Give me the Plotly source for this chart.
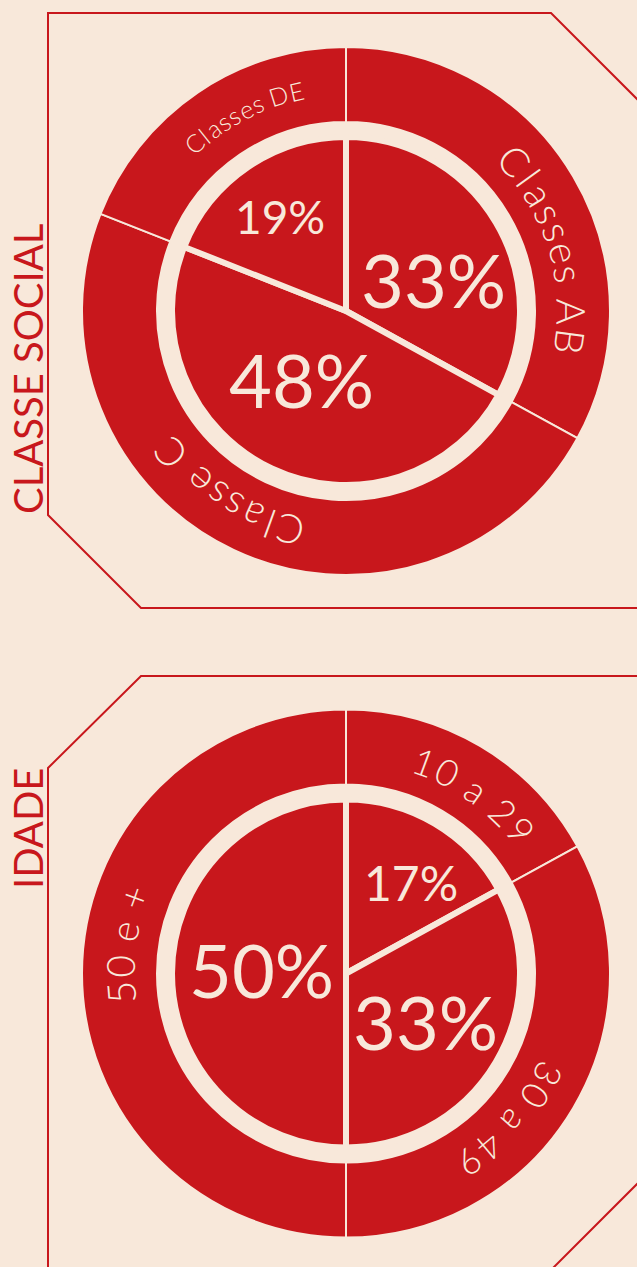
import math
import plotly.graph_objects as go

# ---------------- data ----------------
social_labels = ["Classes AB", "Classe C", "Classes DE"]
social_values = [33, 48, 19]

age_labels = ["10 a 29", "30 a 49", "50 e +"]
age_values = [17, 33, 50]

titles = ["CLASSE SOCIAL", "IDADE"]

# ---------------- style ----------------
W, H = 637, 1267
BG = "#F8E8DA"
RED = "#C8171C"
FONT = "Lato"

# approximate advance widths (em)
CHAR_W = {"C": 0.68, "l": 0.24, "a": 0.49, "s": 0.40, "e": 0.51, " ": 0.20,
          "D": 0.75, "E": 0.57, "A": 0.68, "B": 0.64, "+": 0.58}
for d in "0123456789":
    CHAR_W[d] = 0.58

charts = [
    dict(labels=social_labels, values=social_values, title=titles[0],
         cx=346, cy=311, title_xy=(28, 369),
         pct_style=[(433, 279, 74), (301, 379, 74), (279.5, 216, 46)],
         arc_style=[(73.0, 40, 0.10), (212.6, 40, 0.10), (332.4, 25, 0.07)],
         box="M 48,13 L 551,13 L 660,122 L 660,608 L 141,608 L 48,515 Z"),
    dict(labels=age_labels, values=age_values, title=titles[1],
         cx=346, cy=973.5, title_xy=(28, 829),
         pct_style=[(410.5, 882, 48), (425, 1021, 74), (261, 969, 74)],
         arc_style=[(35.4, 37, 0.10), (131.5, 37, 0.10), (277.5, 39, 0.08)],
         box="M 141,676 L 660,676 L 660,1161 L 550,1271 L 48,1271 L 48,768 Z"),
]

R_OUT = 264      # outer ring radius (px)
R_HOLE = 189     # ring inner radius (px)
R_PIE = 174      # inner pie radius (px)
R_TEXT = 226     # curved label radius (px)

fig = go.Figure()
annotations = []
shapes = []


def domain(cx, cy, r):
    return dict(x=[(cx - r) / W, (cx + r) / W],
                y=[(H - cy - r) / H, (H - cy + r) / H])


def arc_text(text, cx, cy, r, theta_c, size, spacing, weight=300):
    widths = [(CHAR_W.get(ch, 0.55) + spacing) * size for ch in text]
    total = sum(widths)
    s = -total / 2
    for ch, w in zip(text, widths):
        mid = s + w / 2
        th = theta_c + math.degrees(mid / r)
        t = math.radians(th)
        x = cx + r * math.sin(t)
        y = cy - r * math.cos(t)
        ang = ((th + 180) % 360) - 180
        if ch != " ":
            annotations.append(dict(
                x=x, y=y, xref="x", yref="y", text=ch, showarrow=False,
                textangle=ang, xanchor="center", yanchor="middle",
                font=dict(family=FONT, size=size, color=BG, weight=weight)))
        s += w


for ch in charts:
    cx, cy = ch["cx"], ch["cy"]
    # outer ring
    fig.add_trace(go.Pie(
        values=ch["values"], labels=ch["labels"], sort=False,
        direction="clockwise", rotation=0, hole=R_HOLE / R_OUT,
        marker=dict(colors=[RED] * len(ch["values"]), line=dict(color=BG, width=2)),
        textinfo="none", hoverinfo="skip", showlegend=False,
        domain=domain(cx, cy, R_OUT)))
    # inner pie
    fig.add_trace(go.Pie(
        values=ch["values"], labels=ch["labels"], sort=False,
        direction="clockwise", rotation=0,
        marker=dict(colors=[RED] * len(ch["values"]), line=dict(color=BG, width=6)),
        textinfo="none", hoverinfo="skip", showlegend=False,
        domain=domain(cx, cy, R_PIE)))

    # percentage labels
    for v, (px, py, fs) in zip(ch["values"], ch["pct_style"]):
        annotations.append(dict(
            x=px, y=py, xref="x", yref="y", text=f"{v}%", showarrow=False,
            xanchor="center", yanchor="middle",
            font=dict(family=FONT, size=fs, color=BG, weight=400)))

    # curved category labels
    for lab, (th, fs, sp) in zip(ch["labels"], ch["arc_style"]):
        arc_text(lab, cx, cy, R_TEXT, th, fs, sp)

    # vertical title
    tx, ty = ch["title_xy"]
    annotations.append(dict(
        x=tx, y=ty, xref="x", yref="y", text=ch["title"], showarrow=False,
        textangle=-90, xanchor="center", yanchor="middle",
        font=dict(family=FONT, size=40, color=RED, weight=400)))

    # octagonal frame
    shapes.append(dict(type="path", path=ch["box"], xref="x", yref="y",
                       line=dict(color=RED, width=2), fillcolor="rgba(0,0,0,0)",
                       layer="below"))

fig.update_layout(
    width=W, height=H,
    margin=dict(l=0, r=0, t=0, b=0),
    paper_bgcolor=BG, plot_bgcolor=BG,
    xaxis=dict(range=[0, W], visible=False, fixedrange=True),
    yaxis=dict(range=[H, 0], visible=False, fixedrange=True),
    annotations=annotations, shapes=shapes,
    showlegend=False,
)

fig.write_html(
    "out.html",
    config={"displayModeBar": False},
    post_script=("document.body.style.margin='0';"
                 "document.body.style.background='" + BG + "';"
                 "document.body.style.overflow='hidden';"),
)
